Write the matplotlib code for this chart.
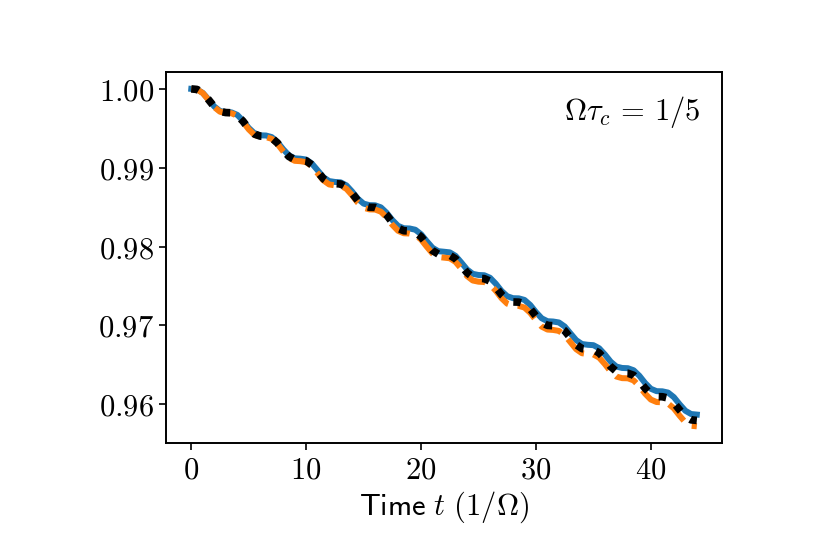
import numpy as np
import matplotlib
matplotlib.use("Agg")
import matplotlib.pyplot as plt
from matplotlib.ticker import FormatStrFormatter

plt.rcParams['mathtext.fontset'] = 'cm'
plt.rcParams['font.size'] = 22

# time grid (1/Omega)
t = np.arange(0, 44.01, 0.5)

blue = [1.00000, 0.99993, 0.99949, 0.99866, 0.99777, 0.99720, 0.99705, 0.99702, 0.99671, 0.99597,
        0.99505, 0.99437, 0.99411, 0.99409, 0.99389, 0.99326, 0.99235, 0.99157, 0.99120, 0.99115,
        0.99104, 0.99053, 0.98967, 0.98880, 0.98831, 0.98820, 0.98815, 0.98777, 0.98698, 0.98607,
        0.98545, 0.98526, 0.98524, 0.98498, 0.98429, 0.98337, 0.98263, 0.98233, 0.98230, 0.98214,
        0.98157, 0.98068, 0.97985, 0.97942, 0.97935, 0.97927, 0.97883, 0.97799, 0.97710, 0.97655,
        0.97640, 0.97637, 0.97605, 0.97530, 0.97438, 0.97371, 0.97346, 0.97344, 0.97324, 0.97260,
        0.97169, 0.97091, 0.97054, 0.97050, 0.97038, 0.96987, 0.96900, 0.96814, 0.96765, 0.96755,
        0.96750, 0.96711, 0.96632, 0.96541, 0.96479, 0.96461, 0.96458, 0.96432, 0.96362, 0.96270,
        0.96197, 0.96167, 0.96165, 0.96149, 0.96091, 0.96001, 0.95919, 0.95877, 0.95870]

orange = [1.00000, 0.99992, 0.99947, 0.99861, 0.99769, 0.99710, 0.99695, 0.99691, 0.99659, 0.99582,
          0.99487, 0.99416, 0.99390, 0.99388, 0.99367, 0.99302, 0.99208, 0.99126, 0.99088, 0.99083,
          0.99071, 0.99019, 0.98929, 0.98840, 0.98788, 0.98777, 0.98772, 0.98733, 0.98651, 0.98557,
          0.98492, 0.98472, 0.98470, 0.98443, 0.98372, 0.98276, 0.98200, 0.98169, 0.98166, 0.98150,
          0.98090, 0.97998, 0.97912, 0.97868, 0.97860, 0.97852, 0.97806, 0.97720, 0.97627, 0.97570,
          0.97555, 0.97551, 0.97518, 0.97441, 0.97346, 0.97276, 0.97250, 0.97248, 0.97227, 0.97161,
          0.97066, 0.96985, 0.96948, 0.96943, 0.96931, 0.96878, 0.96788, 0.96699, 0.96648, 0.96638,
          0.96632, 0.96592, 0.96510, 0.96416, 0.96352, 0.96332, 0.96330, 0.96303, 0.96230, 0.96135,
          0.96060, 0.96029, 0.96026, 0.96009, 0.95949, 0.95856, 0.95771, 0.95728, 0.95721]

black = [1.00000, 0.99993, 0.99948, 0.99864, 0.99773, 0.99715, 0.99700, 0.99697, 0.99665, 0.99590,
         0.99496, 0.99427, 0.99401, 0.99399, 0.99378, 0.99314, 0.99222, 0.99142, 0.99104, 0.99099,
         0.99088, 0.99036, 0.98948, 0.98860, 0.98810, 0.98799, 0.98794, 0.98755, 0.98675, 0.98582,
         0.98519, 0.98499, 0.98497, 0.98471, 0.98401, 0.98307, 0.98232, 0.98201, 0.98198, 0.98182,
         0.98124, 0.98033, 0.97949, 0.97905, 0.97898, 0.97890, 0.97845, 0.97760, 0.97669, 0.97613,
         0.97598, 0.97594, 0.97562, 0.97486, 0.97392, 0.97324, 0.97298, 0.97296, 0.97276, 0.97211,
         0.97118, 0.97038, 0.97001, 0.96997, 0.96985, 0.96933, 0.96844, 0.96757, 0.96707, 0.96697,
         0.96691, 0.96652, 0.96571, 0.96479, 0.96416, 0.96397, 0.96394, 0.96368, 0.96296, 0.96203,
         0.96129, 0.96098, 0.96096, 0.96079, 0.96020, 0.95929, 0.95845, 0.95803, 0.95796]

fig = plt.figure(figsize=(8.3, 5.54), dpi=100)
ax = fig.add_axes([0.2, 0.2, 0.67, 0.67])

ax.plot(t, blue, color='#1f77b4', lw=4.3)
ax.plot(t, orange, color='#ff7f0e', lw=4.3, ls='--')
ax.plot(t, black, color='black', lw=5.5, ls=':')

ax.xaxis.set_major_formatter(FormatStrFormatter('$%d$'))
ax.yaxis.set_major_formatter(FormatStrFormatter('$%.2f$'))
ax.set_xticks([0, 10, 20, 30, 40])
ax.set_yticks([0.96, 0.97, 0.98, 0.99, 1.00])
ax.set_xlabel(r'$\mathsf{Time}\ t\ (1/\Omega)$')
ax.text(0.96, 0.892, r'$\Omega\tau_c\,=\,1/5$', transform=ax.transAxes, ha='right', va='center')

for s in ax.spines.values():
    s.set_linewidth(1.4)
ax.tick_params(width=1.2, length=5)

fig.savefig('out.png', dpi=100)
